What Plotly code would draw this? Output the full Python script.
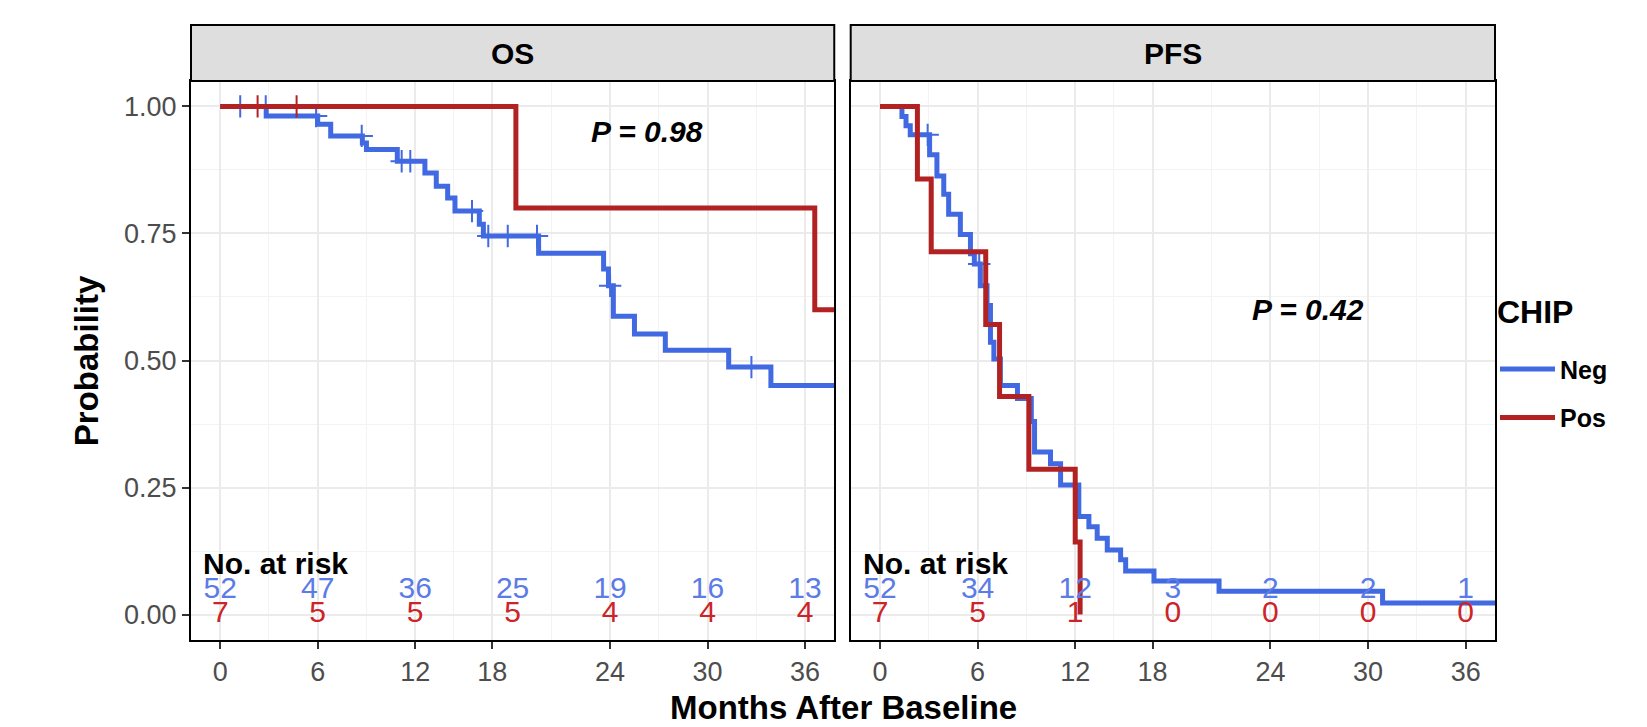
import plotly.graph_objects as go

# ---------------- data ----------------
groups = ["Neg", "Pos"]
colors = {"Neg": "#4169E1", "Pos": "#B22222"}
risk_colors = {"Neg": "#5B7BE6", "Pos": "#CC2428"}

# OS Kaplan-Meier steps
os_neg_t = [0, 2.83, 6.0, 6.8, 8.75, 9.0, 10.9, 12.6, 13.3, 14.0, 14.45, 15.95, 16.2,
            19.6, 23.6, 23.9, 24.2, 25.5, 27.4, 31.3, 33.9, 37.8]
os_neg_s = [1.0, 0.981, 0.965, 0.942, 0.928, 0.915, 0.892, 0.869, 0.843, 0.820, 0.794,
            0.768, 0.745, 0.711, 0.680, 0.647, 0.587, 0.552, 0.520, 0.487, 0.451, 0.451]
os_neg_cens = [1.23, 2.8, 5.9, 8.71, 11.17, 11.7, 15.5, 16.5, 17.7, 19.5, 24.0, 32.7]

os_pos_t = [0, 18.2, 36.6, 37.8]
os_pos_s = [1.0, 0.8, 0.6, 0.6]
os_pos_cens = [2.3, 4.7]

# PFS Kaplan-Meier steps
pfs_neg_t = [0, 1.35, 1.6, 1.86, 3.05, 3.5, 3.92, 4.22, 4.94, 5.56, 5.8, 6.17, 6.58, 6.79,
             7.0, 7.4, 8.45, 9.3, 9.5, 10.48, 11.1, 12.22, 12.84, 13.35, 13.97, 14.79,
             15.1, 16.84, 20.84, 30.89, 37.8]
pfs_neg_s = [1.0, 0.98, 0.962, 0.944, 0.905, 0.863, 0.827, 0.788, 0.748, 0.71, 0.69,
             0.647, 0.608, 0.536, 0.503, 0.451, 0.425, 0.38, 0.32, 0.297, 0.255, 0.193,
             0.173, 0.15, 0.127, 0.108, 0.086, 0.066, 0.046, 0.023, 0.023]
pfs_neg_cens = [2.93, 6.1]

pfs_pos_t = [0, 2.3, 3.15, 6.5, 7.35, 9.15, 12.0, 12.3]
pfs_pos_s = [1.0, 0.857, 0.714, 0.571, 0.429, 0.286, 0.143, 0.0]
pfs_pos_cens = []

# Numbers at risk
risk_times = [0, 6, 12, 18, 24, 30, 36]
os_risk_neg = [52, 47, 36, 25, 19, 16, 13]
os_risk_pos = [7, 5, 5, 5, 4, 4, 4]
pfs_risk_neg = [52, 34, 12, 3, 2, 2, 1]
pfs_risk_pos = [7, 5, 1, 0, 0, 0, 0]

# axis ticks (as drawn in the reference)
x_tick_pos = [0, 6, 12, 16.75, 24, 30, 36]
x_tick_text = ["0", "6", "12", "18", "24", "30", "36"]
y_tick_vals = [0, 0.25, 0.5, 0.75, 1.0]
y_tick_text = ["0.00", "0.25", "0.50", "0.75", "1.00"]

panels = ["OS", "PFS"]
p_values = {"OS": "P = 0.98", "PFS": "P = 0.42"}
p_pos = {"OS": (26.26, 0.951), "PFS": (26.3, 0.60)}

FONT = "Liberation Sans, Arial, sans-serif"


def step_at(ts, ss, t):
    val = ss[0]
    for ti, si in zip(ts, ss):
        if ti <= t:
            val = si
    return val


curves = {
    ("OS", "Neg"): (os_neg_t, os_neg_s, os_neg_cens),
    ("OS", "Pos"): (os_pos_t, os_pos_s, os_pos_cens),
    ("PFS", "Neg"): (pfs_neg_t, pfs_neg_s, pfs_neg_cens),
    ("PFS", "Pos"): (pfs_pos_t, pfs_pos_s, pfs_pos_cens),
}
risks = {
    ("OS", "Neg"): os_risk_neg, ("OS", "Pos"): os_risk_pos,
    ("PFS", "Neg"): pfs_risk_neg, ("PFS", "Pos"): pfs_risk_pos,
}

fig = go.Figure()

for pi, panel in enumerate(panels):
    xa = "x" if pi == 0 else "x2"
    ya = "y" if pi == 0 else "y2"
    for g in groups:
        ts, ss, cens = curves[(panel, g)]
        fig.add_trace(go.Scatter(
            x=ts, y=ss, mode="lines", line=dict(color=colors[g], width=5, shape="hv"),
            name=g, legendgroup=g, showlegend=(pi == 0), xaxis=xa, yaxis=ya,
            hoverinfo="skip"))
        if cens:
            fig.add_trace(go.Scatter(
                x=cens, y=[step_at(ts, ss, c) for c in cens], mode="markers",
                marker=dict(symbol="cross-thin", size=16,
                            line=dict(color=colors[g], width=2)),
                showlegend=False, xaxis=xa, yaxis=ya, hoverinfo="skip"))
    # numbers at risk
    for g, yv in zip(groups, [0.048, 0.0]):
        fig.add_trace(go.Scatter(
            x=risk_times, y=[yv] * len(risk_times), mode="text",
            text=[str(v) for v in risks[(panel, g)]],
            textfont=dict(color=risk_colors[g], size=30, family=FONT),
            textposition="middle center", showlegend=False, xaxis=xa, yaxis=ya,
            hoverinfo="skip"))

annotations = []
shapes = []
for pi, panel in enumerate(panels):
    xa = "x" if pi == 0 else "x2"
    ya = "y" if pi == 0 else "y2"
    xd = "x domain" if pi == 0 else "x2 domain"
    yd = "y domain" if pi == 0 else "y2 domain"
    shapes.append(dict(type="rect", xref=xd, yref=yd, x0=0, x1=1, y0=1, y1=1.1002,
                       fillcolor="#DEDEDE", line=dict(color="black", width=2), layer="above"))
    annotations.append(dict(text="<b>%s</b>" % panel, xref=xd, yref=yd, x=0.5, y=1.05,
                            showarrow=False, font=dict(size=30, color="black", family=FONT),
                            xanchor="center", yanchor="middle"))
    annotations.append(dict(text="<b>No. at risk</b>", xref=xd, yref=ya, x=0.016, y=0.1,
                            showarrow=False, font=dict(size=30, color="black", family=FONT),
                            xanchor="left", yanchor="middle"))
    px, py = p_pos[panel]
    annotations.append(dict(text="<b><i>%s</i></b>" % p_values[panel], xref=xa, yref=ya,
                            x=px, y=py, showarrow=False,
                            font=dict(size=30, color="black", family=FONT),
                            xanchor="center", yanchor="middle"))

annotations.append(dict(text="<b>Months After Baseline</b>", xref="paper", yref="paper",
                        x=0.5, y=-0.12, showarrow=False,
                        font=dict(size=33, color="black", family=FONT),
                        xanchor="center", yanchor="middle"))
annotations.append(dict(text="<b>Probability</b>", xref="paper", yref="paper",
                        x=-0.080, y=0.5, showarrow=False, textangle=-90,
                        font=dict(size=33, color="black", family=FONT),
                        xanchor="center", yanchor="middle"))

x_minor = [(a + b) / 2 for a, b in zip(x_tick_pos[:-1], x_tick_pos[1:])]
y_minor = [(a + b) / 2 for a, b in zip(y_tick_vals[:-1], y_tick_vals[1:])]

xcommon = dict(range=[-1.8, 37.8], tickvals=x_tick_pos, ticktext=x_tick_text,
               showgrid=True, gridcolor="#EBEBEB", gridwidth=2, zeroline=False,
               showline=True, mirror=True, linecolor="black", linewidth=2,
               ticks="outside", ticklen=7, tickwidth=2, tickcolor="#333333",
               tickfont=dict(size=27, color="#4D4D4D", family=FONT),
               minor=dict(tickvals=x_minor, showgrid=True, gridcolor="#F3F3F3",
                          gridwidth=1, ticks=""))
ycommon = dict(range=[-0.05, 1.05], tickvals=y_tick_vals, ticktext=y_tick_text,
               showgrid=True, gridcolor="#EBEBEB", gridwidth=2, zeroline=False,
               showline=True, mirror=True, linecolor="black", linewidth=2,
               tickfont=dict(size=27, color="#4D4D4D", family=FONT),
               minor=dict(tickvals=y_minor, showgrid=True, gridcolor="#F3F3F3",
                          gridwidth=1, ticks=""))

fig.update_layout(
    width=1639, height=719,
    margin=dict(l=183, r=152, t=73, b=87),
    paper_bgcolor="white", plot_bgcolor="white",
    font=dict(family=FONT),
    xaxis=dict(domain=[0, 0.4933], anchor="y", **xcommon),
    xaxis2=dict(domain=[0.5059, 1], anchor="y2", **xcommon),
    yaxis=dict(domain=[0, 1], anchor="x", ticks="outside", ticklen=7, tickwidth=2,
               tickcolor="#333333", **ycommon),
    yaxis2=dict(domain=[0, 1], anchor="x2", showticklabels=False, ticks="",
                matches="y", **ycommon),
    legend=dict(x=1.0, xanchor="left", y=0.609, yanchor="top",
                title=dict(text="<span style='font-size:32px'><b>CHIP</b></span><br> ",
                           font=dict(size=18, color="black", family=FONT)),
                font=dict(size=25, color="black", family=FONT, weight="bold"),
                itemwidth=55,
                traceorder="grouped", tracegroupgap=13, bgcolor="rgba(0,0,0,0)"),
    annotations=annotations, shapes=shapes,
)

fig.write_html("out.html")
